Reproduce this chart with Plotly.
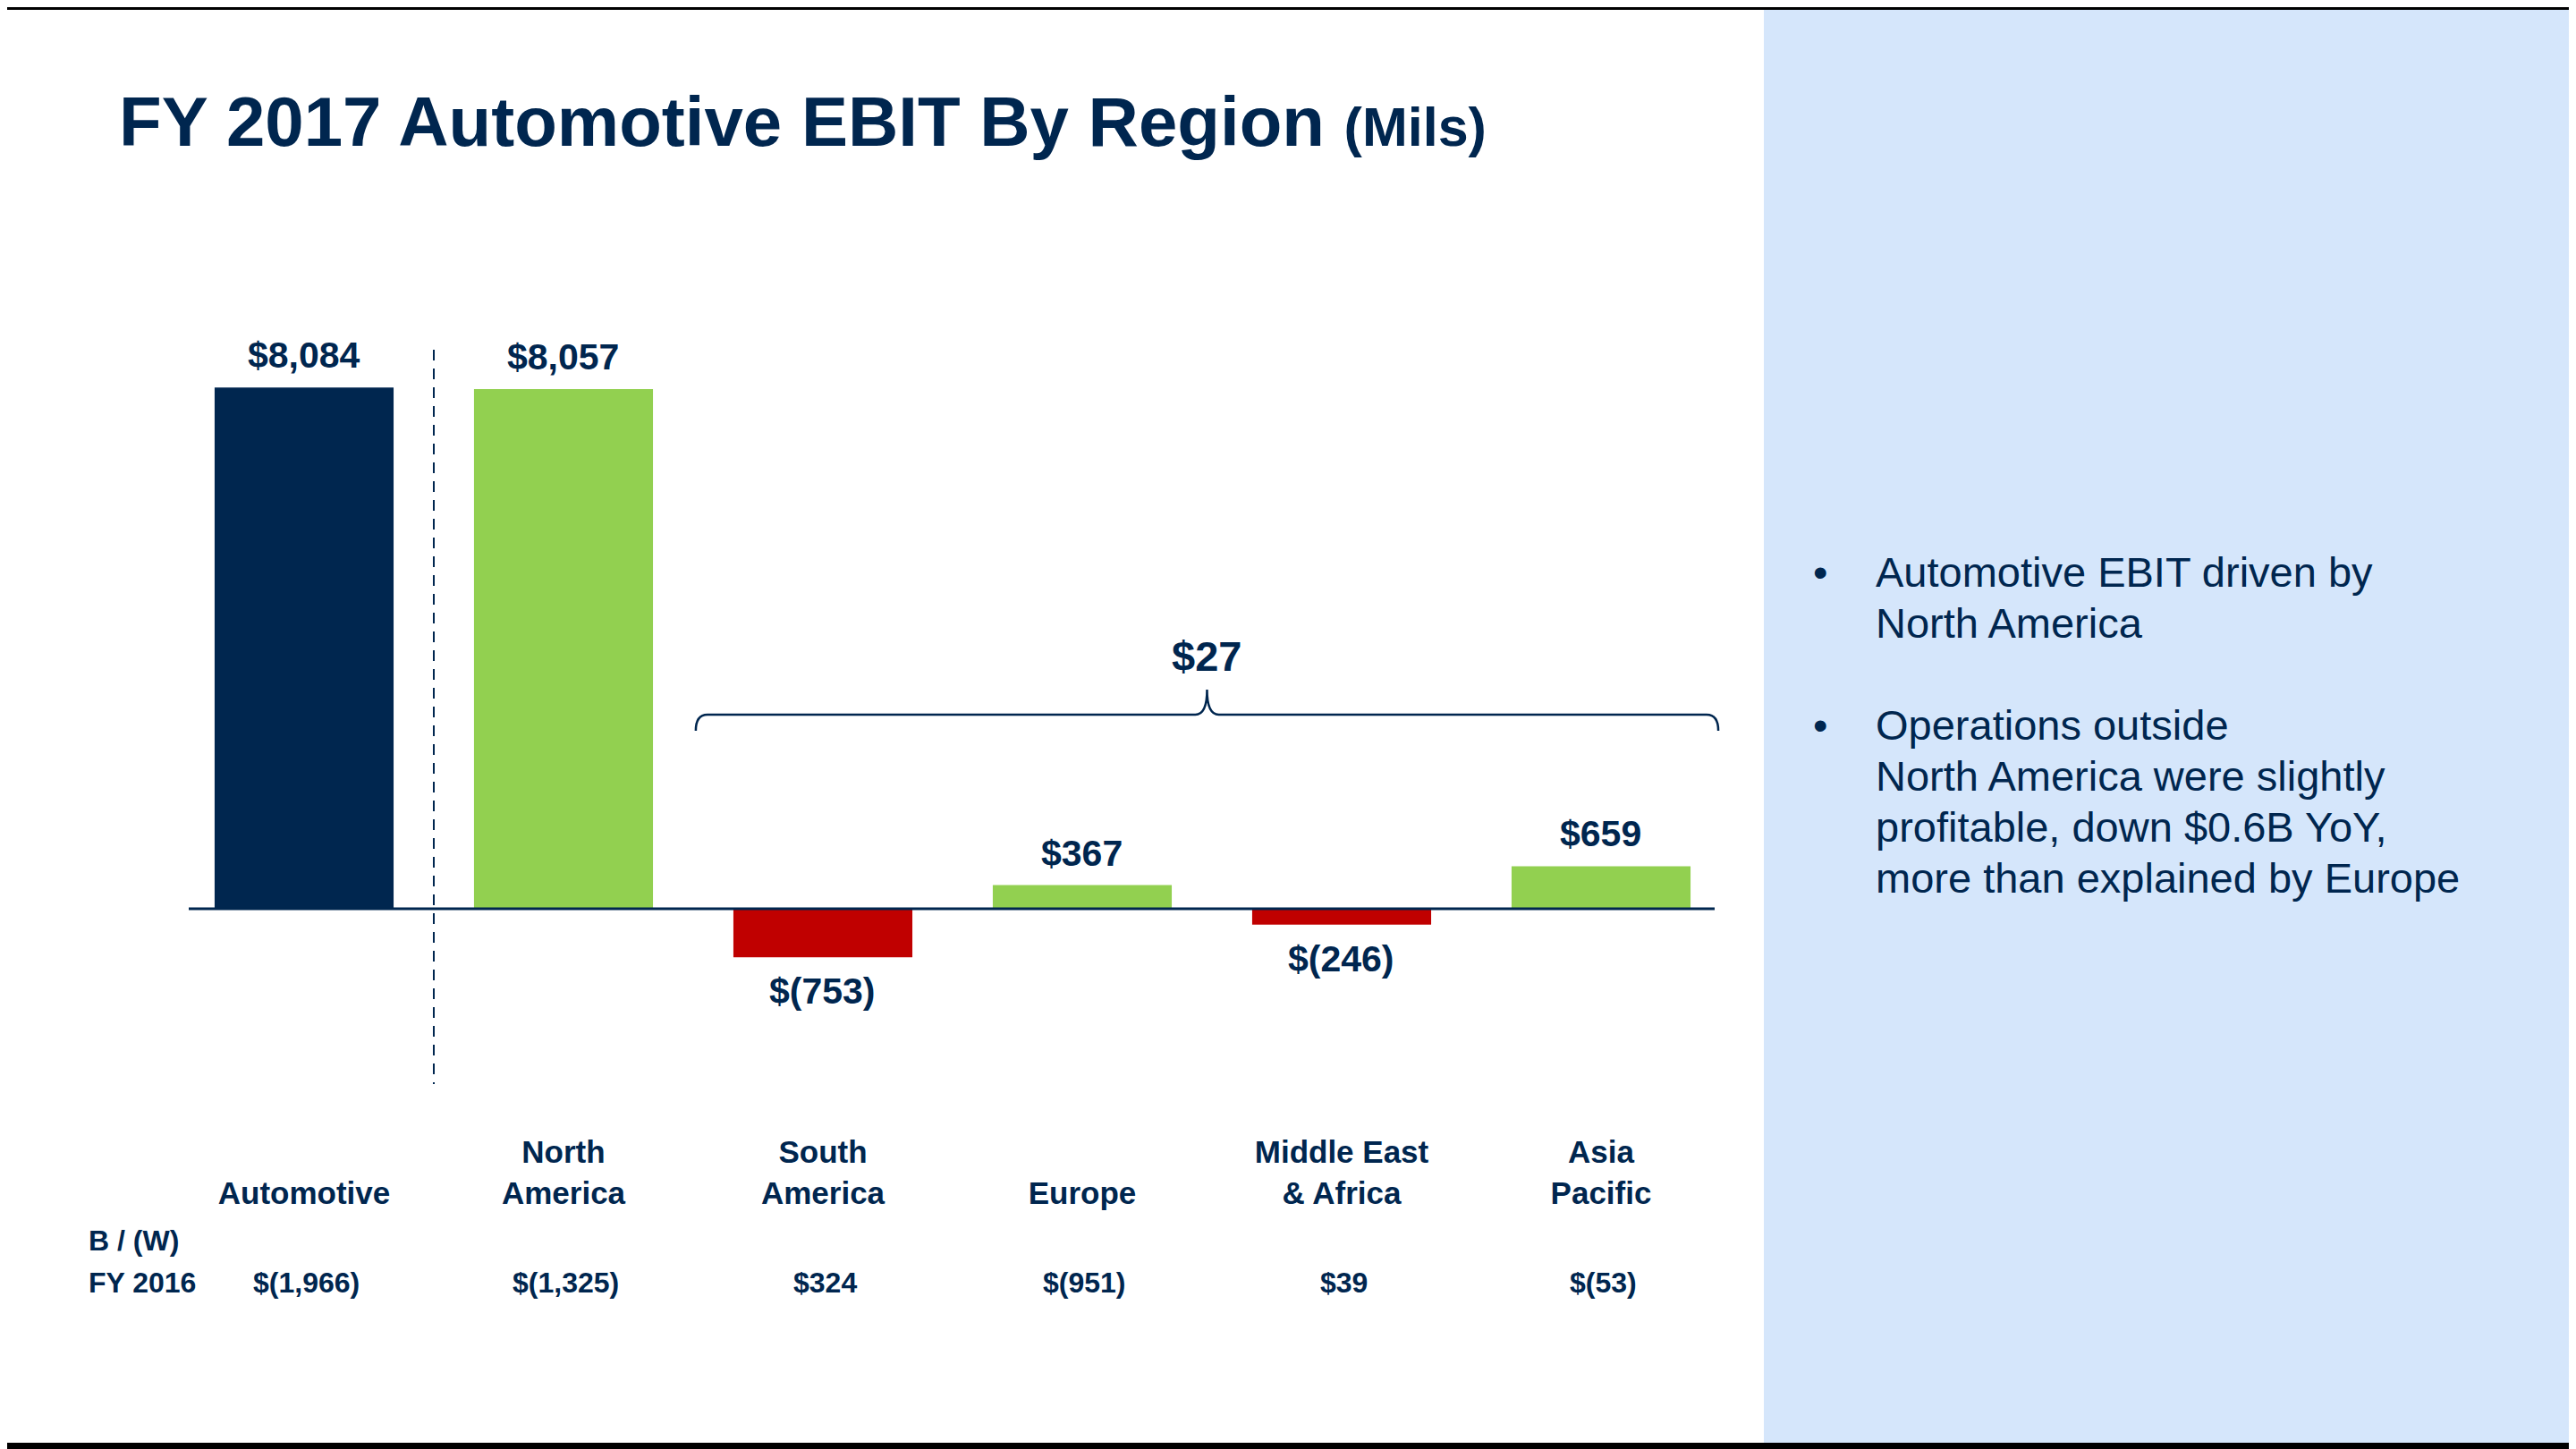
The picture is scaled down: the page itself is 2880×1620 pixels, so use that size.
import plotly.graph_objects as go

# data
regions = ["Automotive", "North America", "South America", "Europe", "Middle East & Africa", "Asia Pacific"]
tick_labels = [" <br>Automotive", "North<br>America", "South<br>America", " <br>Europe",
               "Middle East<br>& Africa", "Asia<br>Pacific"]
ebit_2017 = [8084, 8057, -753, 367, -246, 659]
bw_2016 = [-1966, -1325, 324, -951, 39, -53]
bullet_lines = [
    ["Automotive EBIT driven by", "North America"],
    ["Operations outside", "North America were slightly",
     "profitable, down $0.6B YoY,", "more than explained by Europe"],
]

NAVY = "#00264F"
GREEN = "#92D050"
RED = "#C00000"
PANEL = "#D5E6FB"
FONT = "Arial, Liberation Sans, sans-serif"

W, H = 2880, 1620
OFF = 8  # page body margin


def px(x):
    return (x - OFF) / W


def py(y):
    return 1 - (y - OFF) / H


def money(v):
    return "$({:,})".format(-v) if v < 0 else "${:,}".format(v)


xs = list(range(len(regions)))
colors = [NAVY] + [GREEN if v > 0 else RED for v in ebit_2017[1:]]

fig = go.Figure()
fig.add_trace(go.Bar(
    x=xs, y=ebit_2017, width=0.69,
    marker=dict(color=colors, line=dict(width=0)),
    hovertext=regions, showlegend=False,
))

annotations = []

# value labels over / under bars
for x, v in zip(xs, ebit_2017):
    annotations.append(dict(
        x=x, y=v, xref="x", yref="y", text="<b>%s</b>" % money(v), showarrow=False,
        yanchor="bottom" if v > 0 else "top", yshift=11 if v > 0 else -13,
        font=dict(size=41, color=NAVY, family=FONT),
    ))

# regional total over the brace
others = ebit_2017[2:]
brace_x0, brace_x1 = 1.51, 5.452
brace_mid = (brace_x0 + brace_x1) / 2
y_top, y_end, y_tip = 3010, 2760, 3398
annotations.append(dict(
    x=brace_mid, y=y_tip, xref="x", yref="y", text="<b>%s</b>" % money(sum(others)),
    showarrow=False, yanchor="bottom", yshift=9,
    font=dict(size=47, color=NAVY, family=FONT),
))

# B / (W) row
for label, ytop in [("B / (W)", 1367), ("FY 2016", 1414)]:
    annotations.append(dict(
        x=px(97), y=py(ytop), xref="paper", yref="paper", text="<b>%s</b>" % label,
        showarrow=False, xanchor="left", yanchor="top",
        font=dict(size=32, color=NAVY, family=FONT),
    ))
for x, v in zip(xs, bw_2016):
    annotations.append(dict(
        x=x, y=py(1414), xref="x", yref="paper", text="<b>%s</b>" % money(v),
        showarrow=False, yanchor="top", xshift=3,
        font=dict(size=32, color=NAVY, family=FONT),
    ))

# title
annotations.append(dict(
    x=px(131), y=py(90), xref="paper", yref="paper", xanchor="left", yanchor="top",
    text="<b>FY 2017 Automotive EBIT By Region</b> <b><span style='font-size:61px'>(Mils)</span></b>",
    showarrow=False, font=dict(size=78, color=NAVY, family=FONT),
))

# right-hand commentary, one line per annotation for a 57px leading
row = 0
for i, lines in enumerate(bullet_lines):
    if i:
        row += 1
    annotations.append(dict(
        x=px(2025), y=py(611 + 57 * row), xref="paper", yref="paper",
        xanchor="left", yanchor="top", text="•", showarrow=False,
        font=dict(size=47, color=NAVY, family=FONT),
    ))
    for line in lines:
        annotations.append(dict(
            x=px(2095), y=py(611 + 57 * row), xref="paper", yref="paper",
            xanchor="left", yanchor="top", text=line, showarrow=False,
            font=dict(size=47, color=NAVY, family=FONT),
        ))
        row += 1

d = 0.045
brace = (
    f"M {brace_x0},{y_end} Q {brace_x0},{y_top} {brace_x0 + d},{y_top} "
    f"L {brace_mid - d},{y_top} Q {brace_mid},{y_top} {brace_mid},{y_tip} "
    f"Q {brace_mid},{y_top} {brace_mid + d},{y_top} "
    f"L {brace_x1 - d},{y_top} Q {brace_x1},{y_top} {brace_x1},{y_end}"
)

shapes = [
    # commentary panel
    dict(type="rect", xref="paper", yref="paper", x0=px(1972), x1=1, y0=py(1613), y1=1,
         fillcolor=PANEL, line=dict(width=0), layer="below"),
    # top / bottom rules
    dict(type="rect", xref="paper", yref="paper", x0=0, x1=1, y0=1 - 3 / H, y1=1,
         fillcolor="black", line=dict(width=0)),
    dict(type="rect", xref="paper", yref="paper", x0=0, x1=1, y0=py(1620), y1=py(1613),
         fillcolor="black", line=dict(width=0)),
    # zero line
    dict(type="line", xref="x", yref="y", x0=-0.4448, x1=5.438, y0=0, y1=0,
         line=dict(color=NAVY, width=3)),
    # total vs regions divider
    dict(type="line", xref="x", yref="y", x0=0.5, x1=0.5, y0=8669, y1=-2718,
         line=dict(color=NAVY, width=2, dash="12px,9px")),
    # brace over the non-NA regions
    dict(type="path", xref="x", yref="y", path=brace, line=dict(color=NAVY, width=2.5)),
]

fig.update_layout(
    width=W, height=H,
    margin=dict(l=0, r=0, t=0, b=0),
    paper_bgcolor="white", plot_bgcolor="rgba(0,0,0,0)",
    font=dict(family=FONT, color=NAVY),
    xaxis=dict(
        domain=[px(211), px(211 + 5.9248 * 290)], range=[-0.4448, 5.48],
        tickvals=xs, ticktext=tick_labels, showgrid=False, zeroline=False, showline=False,
        ticks="", ticklabelstandoff=34,
        tickfont=dict(size=35, color=NAVY, family=FONT, weight="bold"),
    ),
    yaxis=dict(
        domain=[py(1230), py(380)], range=[-2968, 8821],
        visible=False, showgrid=False, zeroline=False,
    ),
    annotations=annotations,
    shapes=shapes,
    bargap=0.31,
)

fig.write_html("out.html")
